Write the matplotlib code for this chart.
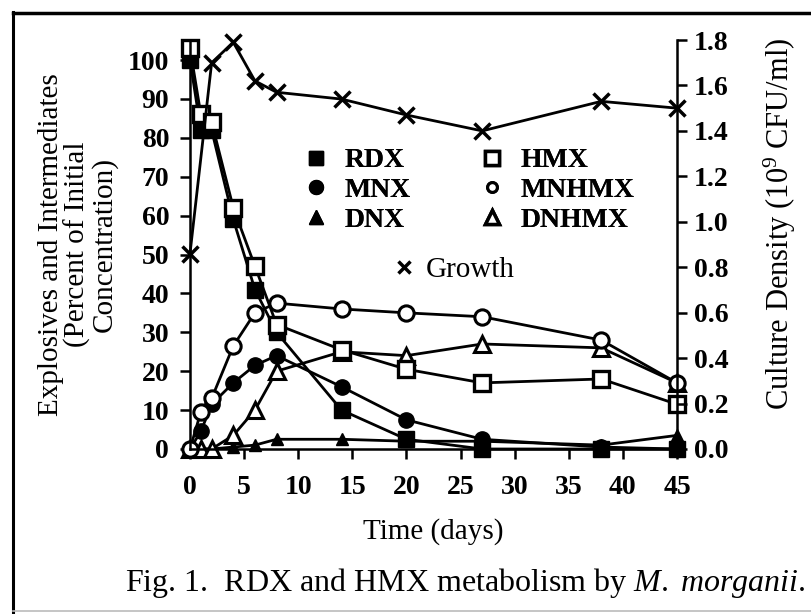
import matplotlib
matplotlib.use("Agg")
import matplotlib.pyplot as plt
from matplotlib.lines import Line2D

plt.rcParams['font.family'] = ['Liberation Serif', 'DejaVu Serif']
plt.rcParams['mathtext.fontset'] = 'custom'
plt.rcParams['mathtext.rm'] = 'Liberation Serif'
plt.rcParams['mathtext.it'] = 'Liberation Serif:italic'
plt.rcParams['mathtext.bf'] = 'Liberation Serif:bold'

# ---- data ----
days = [0, 1, 2, 4, 6, 8, 14, 20, 27, 38, 45]
rdx = [100, 82, 82, 59, 41, 30, 10, 2.5, 0, 0, 0]
hmx = [103, 86, 84, 62, 47, 32, 25.5, 20.5, 17, 18, 11.5]
mnx = [0, 4.5, 11.5, 17, 21.5, 24, 16, 7.5, 2.5, 0.5, 0]
mnhmx = [0, 9.5, 13, 26.5, 35, 37.5, 36, 35, 34, 28, 17]
dnx = [0, 0, 0, 0.5, 1, 2.5, 2.5, 2, 2, 1, 3.5]
dnhmx = [0, 0, 0, 3.5, 10, 20, 25, 24, 27, 26, 17]

growth_days = [0, 2, 4, 6, 8, 14, 20, 27, 38, 45]
growth = [0.86, 1.70, 1.79, 1.62, 1.57, 1.54, 1.47, 1.40, 1.53, 1.50]

xticks = [0, 5, 10, 15, 20, 25, 30, 35, 40, 45]
yticks_left = [0, 10, 20, 30, 40, 50, 60, 70, 80, 90, 100]
yticks_right = [0.0, 0.2, 0.4, 0.6, 0.8, 1.0, 1.2, 1.4, 1.6, 1.8]

# ---- figure ----
W, H = 811, 614
fig = plt.figure(figsize=(W / 100, H / 100), dpi=100)
ax = fig.add_axes([190 / W, 1 - 449 / H, (677 - 190) / W, (449 - 40) / H])
ax2 = ax.twinx()

lw = 2.0
ms = 11
common = dict(color='black', lw=lw, clip_on=False)
ax.plot(days, dnx, marker='^', ms=ms - 2, mfc='black', mec='black', **common)
ax.plot(days, dnhmx, marker='^', ms=ms, mfc='white', mec='black', mew=2.2, **common)
ax.plot(days, mnx, marker='o', ms=ms, mfc='black', mec='black', **common)
ax.plot(days, mnhmx, marker='o', ms=ms, mfc='white', mec='black', mew=2.2, **common)
ax.plot(days, rdx, marker='s', ms=ms, mfc='black', mec='black', **common)
ax.plot(days, hmx, marker='s', ms=ms + 1, mfc='white', mec='black', mew=2.4, **common)
ax2.plot(growth_days, growth, marker='x', ms=ms, mew=2.5, **common)

ax.set_xlim(0, 45)
ax.set_ylim(0, 100 * (449 - 40) / (449 - 60))
ax2.set_ylim(0, 1.8)

ax.set_xticks(xticks)
ax.set_xticklabels([str(t) for t in xticks], fontweight='bold')
ax.set_yticks(yticks_left)
ax.set_yticklabels([str(t) for t in yticks_left], fontweight='bold')
ax2.set_yticks(yticks_right)
ax2.set_yticklabels([f"{t:.1f}" for t in yticks_right], fontweight='bold')

for a in (ax, ax2):
    a.spines['top'].set_visible(False)
    for s in a.spines.values():
        s.set_linewidth(1.8)
ax.spines['right'].set_visible(False)
ax2.spines['left'].set_visible(False)
ax2.spines['bottom'].set_visible(False)

fs = 20
ax.tick_params(axis='y', direction='out', length=7, width=1.8, labelsize=fs, pad=8)
ax.tick_params(axis='x', direction='out', length=7, width=1.8, labelsize=fs, pad=12)
ax2.tick_params(axis='y', direction='out', length=7, width=1.8, labelsize=fs, pad=5)

ax.set_xlabel('Time (days)', fontsize=fs + 1, labelpad=13)
ax.set_ylabel('Explosives and Intermediates\n(Percent of Initial\nConcentration)',
              fontsize=fs + 1, linespacing=1.0, labelpad=7)
ax2.set_ylabel('Culture Density (10$^9$ CFU/ml)', fontsize=fs + 2)
ax2.yaxis.set_label_coords(1.175, 0.55)

# legends
lk = dict(color='black', ls='none')
h_rdx = Line2D([], [], marker='s', ms=10, mfc='black', mec='black', **lk)
h_mnx = Line2D([], [], marker='o', ms=10, mfc='black', mec='black', **lk)
h_dnx = Line2D([], [], marker='^', ms=10, mfc='black', mec='black', **lk)
h_hmx = Line2D([], [], marker='s', ms=10, mfc='white', mec='black', mew=2.5, **lk)
h_mnhmx = Line2D([], [], marker='o', ms=7, mfc='white', mec='black', mew=2.2, **lk)
h_dnhmx = Line2D([], [], marker='^', ms=10, mfc='white', mec='black', mew=2.5, **lk)
leg = ax.legend([h_rdx, h_mnx, h_dnx, h_hmx, h_mnhmx, h_dnhmx],
                ['RDX', 'MNX', 'DNX', 'HMX', 'MNHMX', 'DNHMX'],
                ncol=2, frameon=False, handlelength=1.0,
                prop={'size': fs, 'weight': 'bold'},
                handletextpad=0.55, columnspacing=2.4, labelspacing=0.15,
                loc='upper left', bbox_to_anchor=(288 / W, 1 - 134 / H),
                bbox_transform=fig.transFigure, borderpad=0)
ax.add_artist(leg)
h_gr = Line2D([], [], marker='x', ms=9, mew=2.5, **lk)
ax2.legend([h_gr], ['Growth'], frameon=False, fontsize=fs + 1, handlelength=1.0,
           handletextpad=0.25, loc='upper left', bbox_to_anchor=(375 / W, 1 - 242 / H),
           bbox_transform=fig.transFigure, borderpad=0)

# caption
fig.text(465 / W, 1 - 583 / H, 'Fig. 1.  RDX and HMX metabolism by $\\it{M.\\ morganii}$.',
         ha='center', va='center', fontsize=23)

# scan frame
fig.add_artist(Line2D([13 / W, 13 / W], [1 - 12 / H, 1 - 612 / H], color='black', lw=2.2,
                      transform=fig.transFigure))
fig.add_artist(Line2D([13 / W, 1.0], [1 - 13 / H, 1 - 13 / H], color='black', lw=2.5,
                      transform=fig.transFigure))
fig.add_artist(Line2D([13 / W, 1.0], [1 - 611 / H, 1 - 611 / H], color='#bbbbbb', lw=1.2,
                      transform=fig.transFigure))

fig.savefig('out.png', dpi=100)
